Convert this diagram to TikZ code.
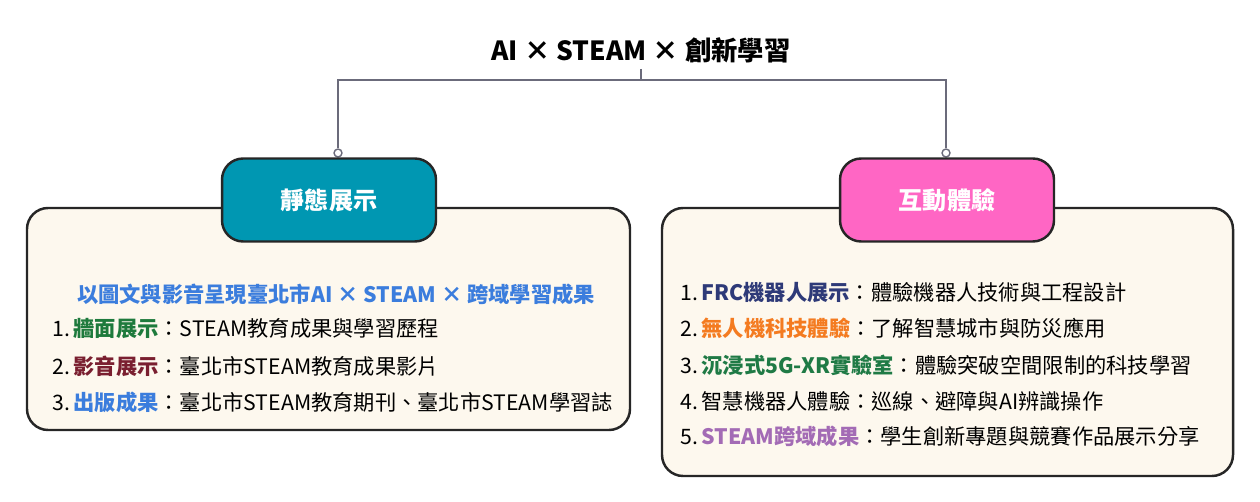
\documentclass[tikz,border=0pt]{standalone}
\usepackage{fontspec}
\setmainfont{Noto Sans CJK TC}
\usetikzlibrary{positioning}
\definecolor{teal}{HTML}{0097B2}
\definecolor{pinkbox}{HTML}{FF66C4}
\definecolor{cream}{HTML}{FDF8EE}
\definecolor{wallgreen}{HTML}{1E7A3C}
\definecolor{avred}{HTML}{7A1F30}
\definecolor{pubblue}{HTML}{3B7DDD}
\definecolor{navy}{HTML}{2E3A78}
\definecolor{droneorange}{HTML}{F47B20}
\definecolor{xrgreen}{HTML}{1F7A45}
\definecolor{steampurple}{HTML}{A36BB5}
\definecolor{linegray}{HTML}{6B6B7B}
\tikzset{
  panel/.style={draw=black!85, line width=1.4pt, rounded corners=12pt, fill=cream},
  header/.style={draw=black!85, line width=1.4pt, rounded corners=12pt, minimum width=4.28cm, minimum height=1.66cm, text=white, font=\fontsize{13.7}{15}\selectfont\bfseries},
  item/.style={anchor=west, font=\fontsize{12.1}{14}\selectfont, inner sep=0pt},
  link/.style={linegray, line width=0.9pt},
  knob/.style={circle, draw=linegray, fill=white, line width=0.8pt, inner sep=1.6pt}
}
\begin{document}
\begin{tikzpicture}[x=0.02cm, y=-0.02cm]
\useasboundingbox (0,0) rectangle (1260,502);

% title and links
\node (title) at (641,50) {\fontsize{15}{17}\selectfont\bfseries AI × STEAM × 創新學習};
\coordinate (split) at (641,80);
\node[knob] (knobL) at (338,153) {};
\node[knob] (knobR) at (946,153) {};
\draw[link] (title.south) -- (split) -| (knobL.north);
\draw[link] (split) -| (knobR.north);

% left panel
\draw[panel] (27,208) rectangle (630,430);
\node[header, fill=teal] (static) at (329,200) {靜態展示};
\node[font=\fontsize{12.1}{14}\selectfont\bfseries, text=pubblue] (lhead) at (336,294) {以圖文與影音呈現臺北市AI × STEAM × 跨域學習成果};
\node[item] (l1) at (52,329) {1.\,\textcolor{wallgreen}{\bfseries 牆面展示}：STEAM教育成果與學習歷程};
\node[item] (l2) at (52,366) {2.\,\textcolor{avred}{\bfseries 影音展示}：臺北市STEAM教育成果影片};
\node[item] (l3) at (52,402) {3.\,\textcolor{pubblue}{\bfseries 出版成果}：臺北市STEAM教育期刊、臺北市STEAM學習誌};

% right panel
\draw[panel] (662,208) rectangle (1233,476);
\node[header, fill=pinkbox] (interact) at (947,200) {互動體驗};
\node[item] (r1) at (680,293) {1.\,\textcolor{navy}{\bfseries FRC機器人展示}：體驗機器人技術與工程設計};
\node[item] (r2) at (680,328) {2.\,\textcolor{droneorange}{\bfseries 無人機科技體驗}：了解智慧城市與防災應用};
\node[item] (r3) at (680,365) {3.\,\textcolor{xrgreen}{\bfseries 沉浸式5G-XR實驗室}：體驗突破空間限制的科技學習};
\node[item] (r4) at (680,401) {4.\,智慧機器人體驗：巡線、避障與AI辨識操作};
\node[item] (r5) at (680,436) {5.\,\textcolor{steampurple}{\bfseries STEAM跨域成果}：學生創新專題與競賽作品展示分享};
\end{tikzpicture}
\end{document}
